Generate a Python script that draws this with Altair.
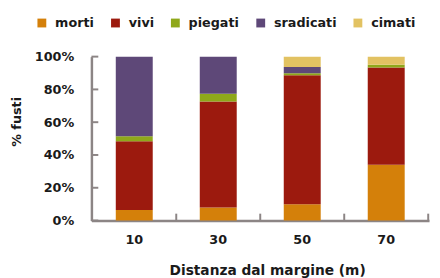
import altair as alt
import pandas as pd

distances = ["10", "30", "50", "70"]
classes = ["morti", "vivi", "piegati", "sradicati", "cimati"]
colors = ["#D4800A", "#9C1A0E", "#8FA81A", "#5E4878", "#E2C262"]
morti = [6.4, 8.0, 10.0, 34.0]
vivi = [42.0, 64.6, 78.6, 59.4]
piegati = [3.0, 4.8, 1.2, 1.6]
sradicati = [48.6, 22.6, 3.8, 0.0]
cimati = [0.0, 0.0, 6.4, 5.0]
y_ticks = [0, 20, 40, 60, 80, 100]

series = [morti, vivi, piegati, sradicati, cimati]
rows = []
for ci, (c, vals) in enumerate(zip(classes, series)):
    for d, v in zip(distances, vals):
        rows.append({"dist": d, "cls": c, "val": v, "idx": ci})
df = pd.DataFrame(rows)

font = "DejaVu Sans"
axis_color = "#8C8585"
text_color = "#1a1a1a"
W, H = 344, 167
x_title = "Distanza dal margine (m)"
y_title = "% fusti"
p_inner, p_outer = 0.56, 0.29
step = W / (len(distances) - p_inner + 2 * p_outer)

xscale = alt.Scale(domain=distances, paddingInner=p_inner, paddingOuter=p_outer)
yscale = alt.Scale(domain=[0, 100], nice=False)

x_axis = alt.Axis(labelAngle=0, ticks=False, domainWidth=2.5, domainColor=axis_color,
                  labelPadding=13, titlePadding=18, titleX=179)
y_axis = alt.Axis(values=y_ticks, labelExpr="datum.value + '%'", grid=False,
                  labelOverlap=False, ticks=False, domainWidth=2.5,
                  domainColor=axis_color, labelPadding=18, titleX=-76, titleY=66,
                  titleAngle=270, titleAlign="center", titleBaseline="middle",
                  titleFontSize=13)

bars = alt.Chart(df).mark_bar().encode(
    x=alt.X("dist:N", sort=distances, title=x_title, scale=xscale, axis=x_axis),
    y=alt.Y("val:Q", stack="zero", title=y_title, scale=yscale, axis=y_axis),
    color=alt.Color("cls:N", scale=alt.Scale(domain=classes, range=colors),
                    legend=alt.Legend(title=None, orient="none", direction="horizontal",
                                      legendX=-57, legendY=-41, symbolType="square",
                                      symbolSize=81, symbolStrokeWidth=0, columnPadding=15,
                                      labelOffset=7, labelFontSize=13, labelFont=font,
                                      labelFontWeight="bold", labelColor=text_color)),
    order=alt.Order("idx:Q", sort="ascending"),
)

ytick_df = pd.DataFrame({"val": y_ticks})
yticks = alt.Chart(ytick_df).mark_rule(color=axis_color, strokeWidth=2).encode(
    y=alt.Y("val:Q", scale=yscale, title=y_title, axis=y_axis),
    x=alt.value(0), x2=alt.value(7),
)

xtick_df = pd.DataFrame({"dist": distances})
xticks = alt.Chart(xtick_df).mark_rule(color=axis_color, strokeWidth=2,
                                       xOffset=p_inner * step / 2).encode(
    x=alt.X("dist:N", sort=distances, scale=xscale, bandPosition=1, title=x_title,
            axis=x_axis),
    y=alt.value(H - 7), y2=alt.value(H),
)

chart = alt.layer(bars, yticks, xticks).properties(
    width=W, height=H, autosize=alt.AutoSizeParams(type="none"),
    padding={"left": 85, "top": 47, "right": 3, "bottom": 56},
).configure_axis(
    labelFont=font, titleFont=font, labelFontSize=13, titleFontSize=14,
    labelFontWeight="bold", titleFontWeight="bold", labelColor=text_color, titleColor=text_color
).configure_view(strokeWidth=0)

chart.save("out.html", embed_options={"renderer": "svg", "actions": False})
